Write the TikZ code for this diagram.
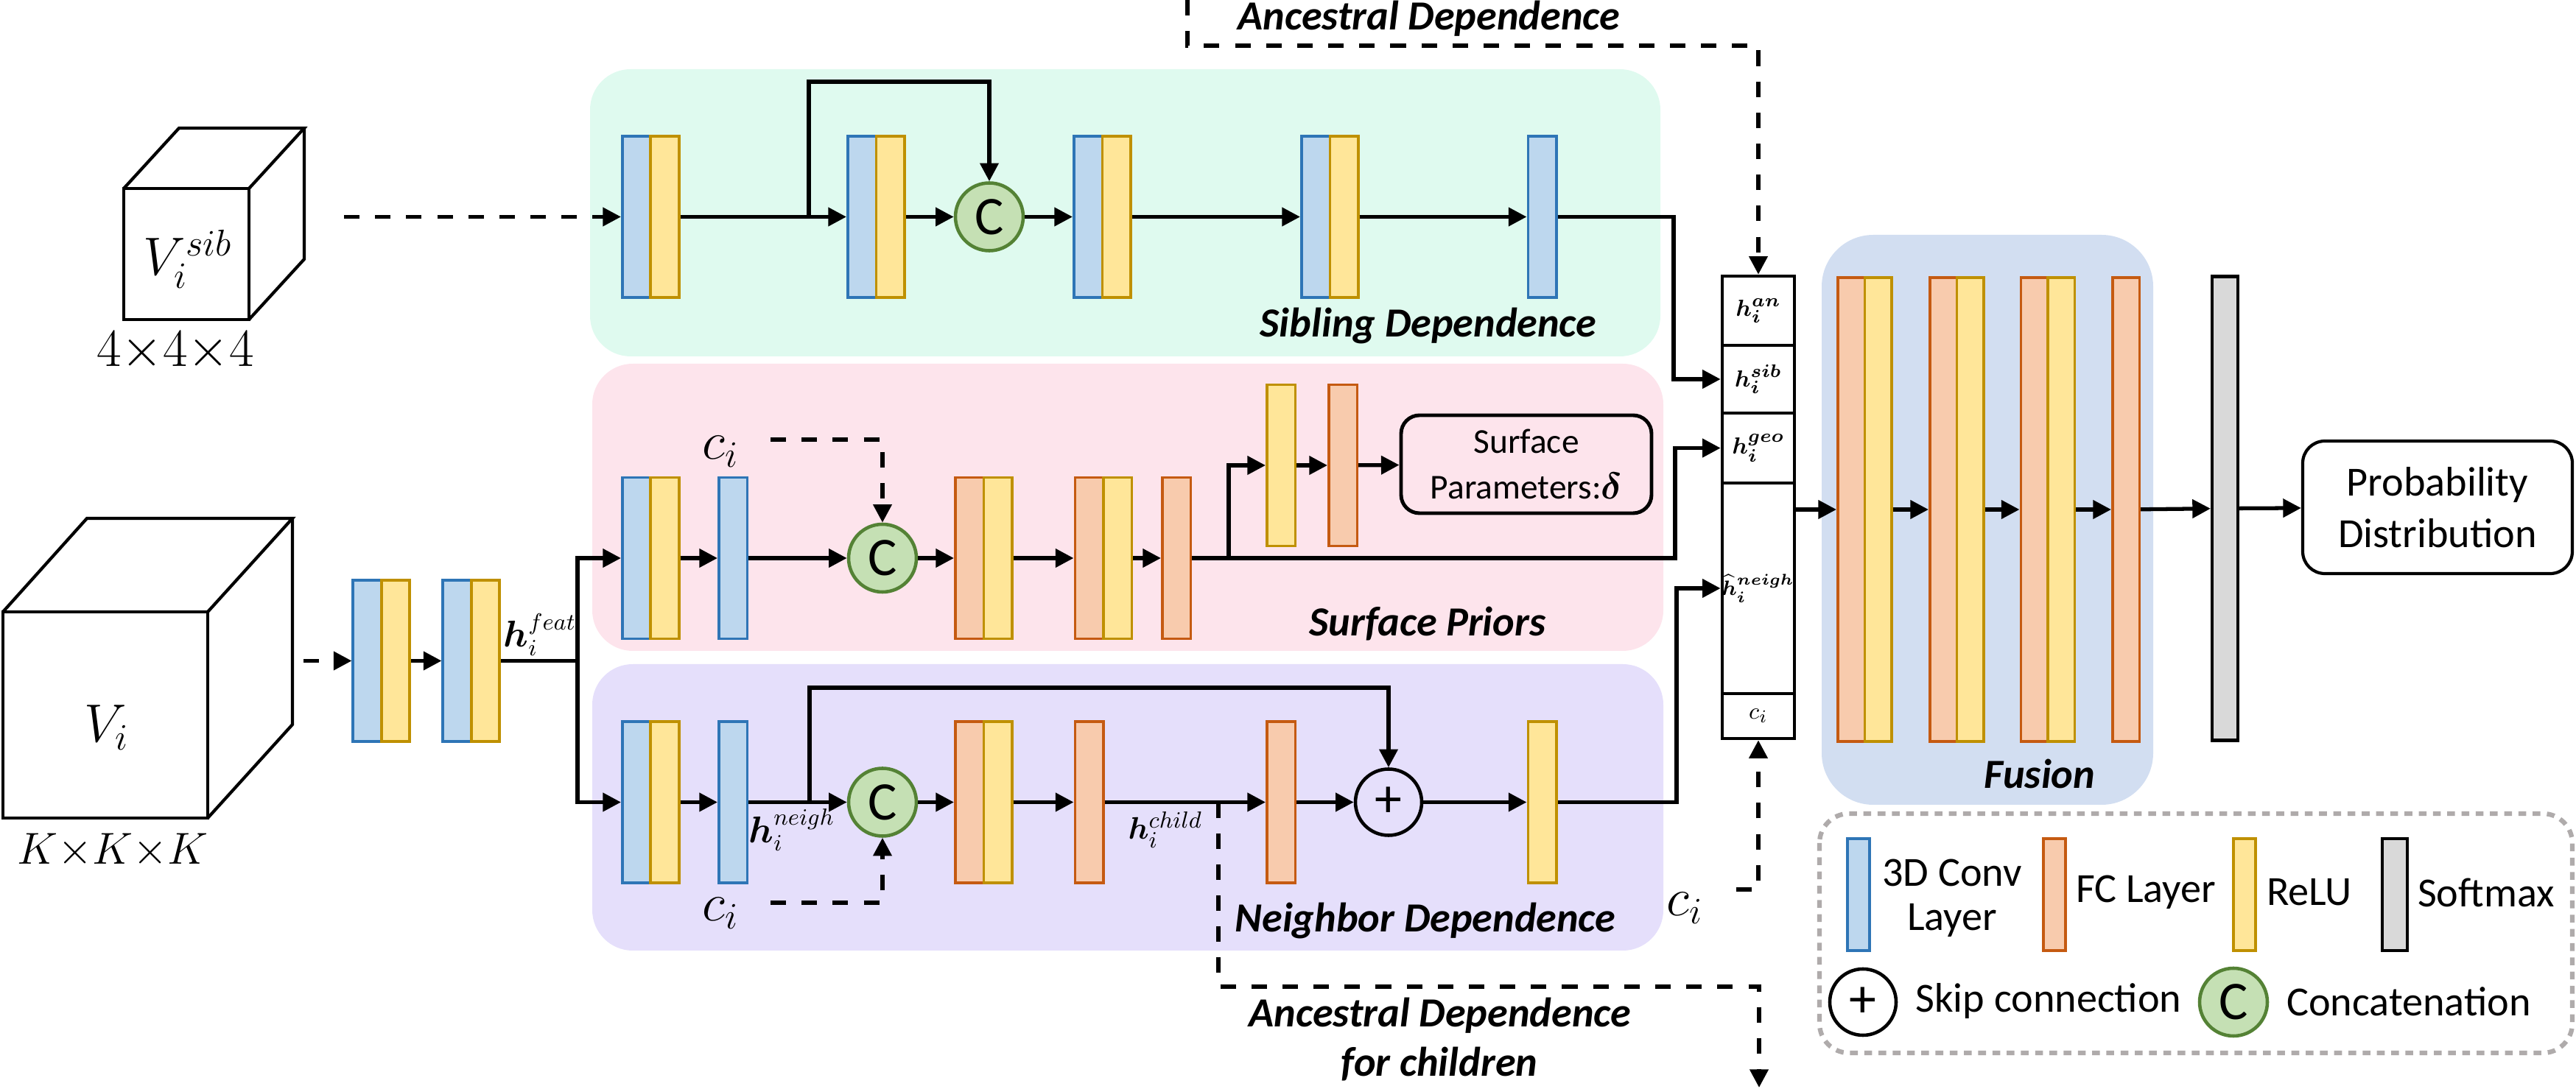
\documentclass[tikz,border=0pt]{standalone}
\usepackage{amsmath,bm}
\usepackage{fontspec}
\setmainfont{Carlito}
\usepackage{tikz}
\usetikzlibrary{arrows.meta}
\usetikzlibrary{positioning}

\definecolor{convf}{HTML}{BDD7EE}
\definecolor{convd}{HTML}{2E75B6}
\definecolor{reluf}{HTML}{FFE699}
\definecolor{relud}{HTML}{BF9000}
\definecolor{fcf}{HTML}{F8CBAD}
\definecolor{fcd}{HTML}{C55A11}
\definecolor{softf}{HTML}{D9D9D9}
\definecolor{catf}{HTML}{C5E0B4}
\definecolor{catd}{HTML}{548235}
\definecolor{sibbg}{HTML}{DFFAEF}
\definecolor{surfbg}{HTML}{FDE4EC}
\definecolor{neighbg}{HTML}{E5DFFB}
\definecolor{fusebg}{HTML}{D2DEF1}
\definecolor{lgdgray}{HTML}{AFABAB}

\tikzset{
  blk/.style={line width=1pt, minimum width=0.385cm, minimum height=2.19cm, inner sep=0pt},
  conv/.style={blk, draw=convd, fill=convf},
  relu/.style={blk, draw=relud, fill=reluf},
  fc/.style={blk, draw=fcd, fill=fcf},
  tallblk/.style={minimum width=0.365cm, minimum height=6.3cm},
  lgdblk/.style={minimum width=0.3cm, minimum height=1.52cm},
  cat/.style={circle, draw=catd, fill=catf, line width=1.3pt, minimum size=0.92cm, inner sep=0pt, font=\fontsize{21}{21}\selectfont},
  addc/.style={circle, draw, line width=1.3pt, minimum size=0.9cm, inner sep=0pt, font=\fontsize{21}{21}\selectfont},
  cell/.style={draw, line width=1.3pt, minimum width=0.98cm, inner sep=0pt, font=\fontsize{9.5}{10}\selectfont},
  arr/.style={line width=1.5pt, -{Triangle[length=7pt,width=7pt]}},
  dsh/.style={line width=1.6pt, dash pattern=on 6pt off 6pt},
  ttl/.style={font=\fontsize{16}{19}\selectfont\bfseries\itshape},
  lgdtxt/.style={font=\fontsize{16}{17}\selectfont, align=center},
  bg/.style={rounded corners=0.55cm},
}

\begin{document}
\begin{tikzpicture}[x=1cm, y=-1cm]
    \useasboundingbox (0,0) rectangle (34.97,14.79);

    % panels
    \fill[sibbg, bg] (8.01,0.94) rectangle (22.54,4.84);
    \fill[surfbg, bg] (8.04,4.94) rectangle (22.58,8.84);
    \fill[neighbg, bg] (8.04,9.02) rectangle (22.58,12.91);
    \fill[fusebg, rounded corners=0.7cm] (24.73,3.19) rectangle (29.23,10.93);
    \node[ttl] (tsib) at (19.39,4.43) {Sibling Dependence};
    \node[ttl] (tsurf) at (19.38,8.47) {Surface Priors};
    \node[ttl] (tneigh) at (19.35,12.51) {Neighbor Dependence};
    \node[ttl] (tfuse) at (27.69,10.51) {Fusion};

    % input cubes
    \draw[line width=1.2pt] (1.68,2.56) rectangle (3.38,4.34);
    \draw[line width=1.2pt] (1.68,2.56) -- (2.43,1.74) -- (4.13,1.74) -- (3.38,2.56);
    \draw[line width=1.2pt] (4.13,1.74) -- (4.13,3.52) -- (3.38,4.34);
    \node[font=\fontsize{22}{22}\selectfont] (vsib) at (2.55,3.52) {$V_i^{sib}$};
    \node[font=\fontsize{21}{21}\selectfont] (vsibsz) at (2.38,4.77) {${4}{\times}{4}{\times}{4}$};

    \draw[line width=1.2pt] (0.04,8.31) rectangle (2.82,11.11);
    \draw[line width=1.2pt] (0.04,8.31) -- (1.18,7.04) -- (3.97,7.04) -- (2.82,8.31);
    \draw[line width=1.2pt] (3.97,7.04) -- (3.97,9.84) -- (2.82,11.11);
    \node[font=\fontsize{22}{22}\selectfont] (vin) at (1.45,9.88) {$V_i$};
    \node[font=\fontsize{19}{19}\selectfont] (vinsz) at (1.53,11.55) {${K}{\times}{K}{\times}{K}$};

    \coordinate (vsibout) at (4.67,2.945);
    \coordinate (vinout) at (4.12,8.975);

    % shared feature layers
    \node[conv] (b1a) at (4.985,8.975) {};
    \node[relu] (b1b) at (5.37,8.975) {};
    \node[conv] (b2a) at (6.205,8.975) {};
    \node[relu] (b2b) at (6.59,8.975) {};
    \draw[dsh, arr] (vinout) -- (b1a);
    \draw[arr] (b1b) -- (b2a);
    \coordinate (split) at (7.84,8.975);
    \draw[line width=1.5pt] (b2b) -- (split);
    \node[font=\fontsize{13.5}{14}\selectfont] (hfeat) at (7.33,8.62) {$\boldsymbol{h}_i^{feat}$};

    % sibling dependence
    \node[conv] (s1a) at (8.64,2.945) {};
    \node[relu] (s1b) at (9.025,2.945) {};
    \node[conv] (s2a) at (11.70,2.945) {};
    \node[relu] (s2b) at (12.085,2.945) {};
    \node[cat] (sc) at (13.43,2.945) {C};
    \node[conv] (s3a) at (14.77,2.945) {};
    \node[relu] (s3b) at (15.155,2.945) {};
    \node[conv] (s4a) at (17.86,2.945) {};
    \node[relu] (s4b) at (18.245,2.945) {};
    \node[conv] (s5a) at (20.935,2.945) {};
    \draw[dsh, arr] (vsibout) -- (s1a);
    \draw[arr] (s1b) -- (s2a);
    \draw[arr] (s2b) -- (sc);
    \draw[arr] (sc) -- (s3a);
    \draw[arr] (s3b) -- (s4a);
    \draw[arr] (s4b) -- (s5a);
    \coordinate (sskip) at (10.98,2.945);
    \draw[arr] (sskip) -- (10.98,1.11) -| (sc);

    % surface priors
    \node[conv] (p1a) at (8.64,7.58) {};
    \node[relu] (p1b) at (9.025,7.58) {};
    \node[conv] (p2a) at (9.95,7.58) {};
    \node[cat] (pc) at (11.98,7.58) {C};
    \node[fc] (p3a) at (13.16,7.58) {};
    \node[relu] (p3b) at (13.545,7.58) {};
    \node[fc] (p4a) at (14.785,7.58) {};
    \node[relu] (p4b) at (15.17,7.58) {};
    \node[fc] (p5a) at (15.97,7.58) {};
    \node[relu] (p6a) at (17.39,6.32) {};
    \node[fc] (p7a) at (18.23,6.32) {};
    \node[draw, line width=1.4pt, rounded corners=0.25cm, minimum width=3.4cm, minimum height=1.33cm, align=center, font=\fontsize{13.5}{17.5}\selectfont] (surfpar) at (20.72,6.305) {Surface\\Parameters:$\boldsymbol{\delta}$};
    \draw[arr] (split) |- (p1a);
    \draw[arr] (p1b) -- (p2a);
    \draw[arr] (p2a) -- (pc);
    \draw[arr] (pc) -- (p3a);
    \draw[arr] (p3b) -- (p4a);
    \draw[arr] (p4b) -- (p5a);
    \coordinate (branch) at (16.68,7.58);
    \draw[arr] (branch) |- (p6a);
    \draw[arr] (p6a) -- (p7a);
    \draw[arr] (p7a) -- (surfpar);
    \node[font=\fontsize{21}{21}\selectfont] (pci) at (9.78,6.13) {$c_i$};
    \coordinate (pcistart) at (10.46,5.97);
    \draw[dsh, arr] (pcistart) -| (pc);

    % neighbor dependence
    \node[conv] (n1a) at (8.64,10.895) {};
    \node[relu] (n1b) at (9.025,10.895) {};
    \node[conv] (n2a) at (9.95,10.895) {};
    \node[cat] (nc) at (11.98,10.895) {C};
    \node[fc] (n3a) at (13.16,10.895) {};
    \node[relu] (n3b) at (13.545,10.895) {};
    \node[fc] (n4a) at (14.785,10.895) {};
    \node[fc] (n5a) at (17.39,10.895) {};
    \node[addc] (nplus) at (18.85,10.895) {+};
    \node[relu] (n6a) at (20.935,10.895) {};
    \draw[arr] (split) |- (n1a);
    \draw[arr] (n1b) -- (n2a);
    \draw[arr] (n2a) -- (nc);
    \draw[arr] (nc) -- (n3a);
    \draw[arr] (n3b) -- (n4a);
    \draw[arr] (n4a) -- (n5a);
    \draw[arr] (n5a) -- (nplus);
    \draw[arr] (nplus) -- (n6a);
    \coordinate (nskip) at (10.99,10.895);
    \draw[arr] (nskip) -- (10.99,9.34) -| (nplus);
    \node[font=\fontsize{13.5}{14}\selectfont] (hneigh) at (10.75,11.27) {$\boldsymbol{h}_i^{neigh}$};
    \node[font=\fontsize{13}{14}\selectfont, inner sep=1pt] (hchild) at (15.82,11.27) {$\boldsymbol{h}_i^{child}$};
    \node[font=\fontsize{21}{21}\selectfont] (nci) at (9.78,12.40) {$c_i$};
    \coordinate (ncistart) at (10.46,12.26);
    \draw[dsh, arr] (ncistart) -| (nc);

    % concatenated feature
    \node[cell, minimum height=0.94cm] (can) at (23.87,4.22) {$\bm{h_i^{an}}$};
    \node[cell, minimum height=0.92cm] (csib) at (23.87,5.15) {$\bm{h_i^{sib}}$};
    \node[cell, minimum height=0.95cm] (cgeo) at (23.87,6.085) {$\bm{h_i^{geo}}$};
    \node[cell, minimum height=2.86cm, font=\fontsize{8.3}{9}\selectfont] (cneigh) at (23.87,7.99) {$\bm{\widehat{h}_i^{neigh}}$};
    \node[cell, minimum height=0.61cm] (cci) at (23.87,9.725) {$c_i$};
    \coordinate (sibturn) at (22.72,2.945);
    \coordinate (geoturn) at (22.74,7.58);
    \coordinate (neighturn) at (22.76,10.895);
    \draw[arr] (s5a) -- (sibturn) |- (csib);
    \draw[arr] (p5a) -- (geoturn) |- (cgeo);
    \draw[arr] (n6a) -- (neighturn) |- (cneigh);

    % ancestral dependence
    \coordinate (antop) at (16.12,0);
    \coordinate (ancorner) at (16.12,0.62);
    \draw[dsh, arr] (antop) -- (ancorner) -| (can);
    \node[ttl, anchor=base] (tanc) at (19.40,0.41) {Ancestral Dependence};
    \node[font=\fontsize{21}{21}\selectfont] (rci) at (22.87,12.33) {$c_i$};
    \coordinate (rcistart) at (23.57,12.08);
    \draw[dsh, arr] (rcistart) -| (cci);
    \coordinate (chtop) at (16.54,10.895);
    \coordinate (chcorner) at (16.54,13.40);
    \coordinate (chend) at (23.88,14.77);
    \draw[dsh, arr] (chtop) -- (chcorner) -| (chend);
    \node[ttl, anchor=base] (tchild) at (19.55,13.95) {Ancestral Dependence};
    \node[ttl, anchor=base] (tchild2) at (19.54,14.62) {for children};

    % fusion
    \node[fc, tallblk] (f1a) at (25.13,6.92) {};
    \node[relu, tallblk] (f1b) at (25.495,6.92) {};
    \node[fc, tallblk] (f2a) at (26.38,6.92) {};
    \node[relu, tallblk] (f2b) at (26.745,6.92) {};
    \node[fc, tallblk] (f3a) at (27.615,6.92) {};
    \node[relu, tallblk] (f3b) at (27.98,6.92) {};
    \node[fc, tallblk] (f4a) at (28.86,6.92) {};
    \node[blk, tallblk, draw=black, fill=softf, line width=1.2pt, minimum width=0.35cm] (soft) at (30.205,6.905) {};
    \node[draw, line width=1.2pt, rounded corners=0.3cm, minimum width=3.66cm, minimum height=1.8cm, align=center, font=\fontsize{16}{20}\selectfont] (prob) at (33.09,6.89) {Probability\\Distribution};
    \draw[arr] (cneigh.east |- f1a) -- (f1a);
    \draw[arr] (f1b) -- (f2a);
    \draw[arr] (f2b) -- (f3a);
    \draw[arr] (f3b) -- (f4a);
    \draw[arr] (f4a) -- (soft);
    \draw[arr] (soft) -- (prob);

    % legend
    \draw[lgdgray, line width=1.8pt, dash pattern=on 3pt off 2.5pt, rounded corners=0.4cm] (24.70,11.05) rectangle (34.92,14.30);
    \node[conv, lgdblk] (lconv) at (25.23,12.15) {};
    \node[lgdtxt] (lconvt) at (26.50,12.20) {3D Conv\\Layer};
    \node[fc, lgdblk] (lfc) at (27.89,12.15) {};
    \node[lgdtxt] (lfct) at (29.13,12.12) {FC Layer};
    \node[relu, lgdblk] (lrelu) at (30.47,12.15) {};
    \node[lgdtxt] (lrelut) at (31.35,12.12) {ReLU};
    \node[blk, lgdblk, draw=black, fill=softf, line width=1.2pt, minimum width=0.34cm] (lsoft) at (32.51,12.15) {};
    \node[lgdtxt] (lsoftt) at (33.75,12.12) {Softmax};
    \node[addc] (lplus) at (25.29,13.61) {+};
    \node[lgdtxt] (lplust) at (27.81,13.60) {Skip connection};
    \node[cat] (lcat) at (30.32,13.61) {C};
    \node[lgdtxt] (lcatt) at (32.70,13.60) {Concatenation};
\end{tikzpicture}
\end{document}
